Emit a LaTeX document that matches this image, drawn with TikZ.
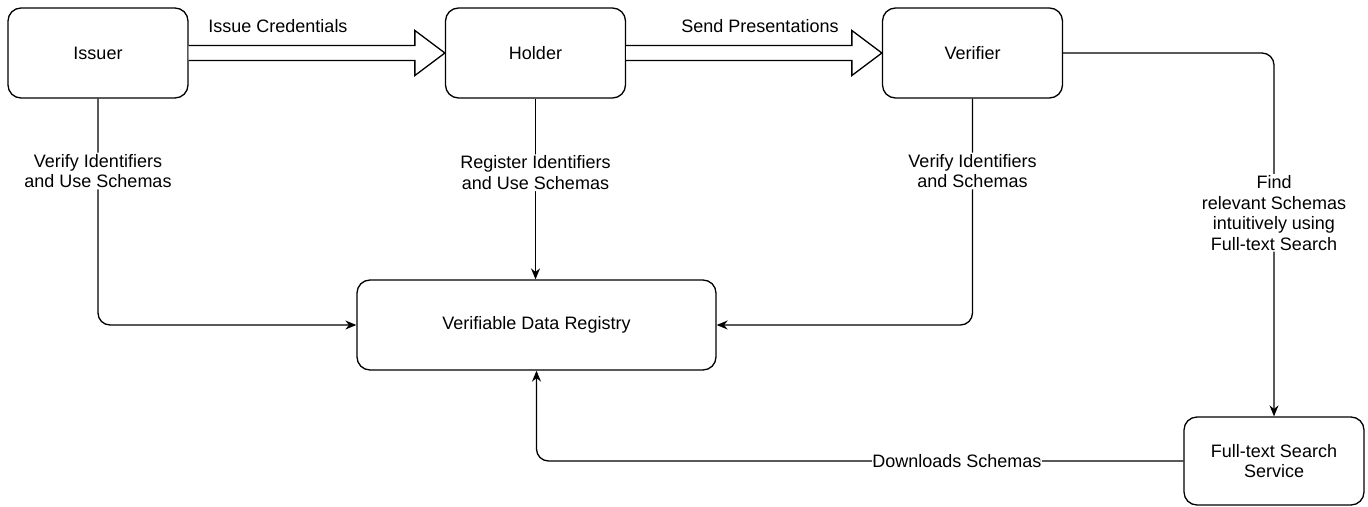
\documentclass[tikz,border=0pt]{standalone}
\usepackage{fontspec}
\setmainfont{Liberation Sans}
\usetikzlibrary{arrows.meta,calc}
\begin{document}
\begin{tikzpicture}[x=1pt,y=-1pt,
  every node/.style={font=\fontsize{18}{20.5}\selectfont},
  box/.style={draw, line width=1.3pt, rounded corners=13pt, minimum width=180pt, minimum height=90pt, align=center, inner sep=0pt},
  conn/.style={line width=1.3pt, rounded corners=12pt, -{Stealth[length=11pt,width=9pt]}},
  lbl/.style={fill=white, align=center, inner sep=1.5pt},
  fat/.style={draw, line width=1.3pt, fill=white, line join=miter}]
\useasboundingbox (0,0) rectangle (1368,506);
\node[box] (iss) at (98,53) {Issuer};
\node[box] (hol) at (535.5,53) {Holder};
\node[box] (ver) at (972.5,53) {Verifier};
\node[box, minimum width=359pt] (vdr) at (536.5,325) {Verifiable Data Registry};
\node[box, minimum width=180pt, minimum height=88pt] (fts) at (1274,461) {Full-text Search\\Service};
% fat arrows
\draw[fat] ($(iss.east)+(0,-7.5)$) -- ($(hol.west)+(-30,-7.5)$) -- ($(hol.west)+(-30,-22.5)$) -- (hol.west)
  -- ($(hol.west)+(-30,22.5)$) -- ($(hol.west)+(-30,7.5)$) -- ($(iss.east)+(0,7.5)$);
\draw[fat] ($(hol.east)+(0,-7.5)$) -- ($(ver.west)+(-30,-7.5)$) -- ($(ver.west)+(-30,-22.5)$) -- (ver.west)
  -- ($(ver.west)+(-30,22.5)$) -- ($(ver.west)+(-30,7.5)$) -- ($(hol.east)+(0,7.5)$);
\node (l1) at (278,26) {Issue Credentials};
\node (l2) at (760,26) {Send Presentations};
% connectors
\draw[conn] (iss.south) |- (vdr.west) node[lbl, pos=0.16] {Verify Identifiers\\and Use Schemas};
\draw[conn] (hol.south) -- (hol.south |- vdr.north) node[lbl, pos=0.41] {Register Identifiers\\and Use Schemas};
\draw[conn] (ver.south) |- (vdr.east) node[lbl, pos=0.16] {Verify Identifiers\\and Schemas};
\draw[conn] (ver.east) -| (fts.north) node[lbl, pos=0.72] {Find\\relevant Schemas\\intuitively using\\Full-text Search};
\draw[conn] (fts.west) -| (vdr.south) node[lbl, pos=0.175, inner sep=0.3pt] {Downloads Schemas};
\end{tikzpicture}
\end{document}
